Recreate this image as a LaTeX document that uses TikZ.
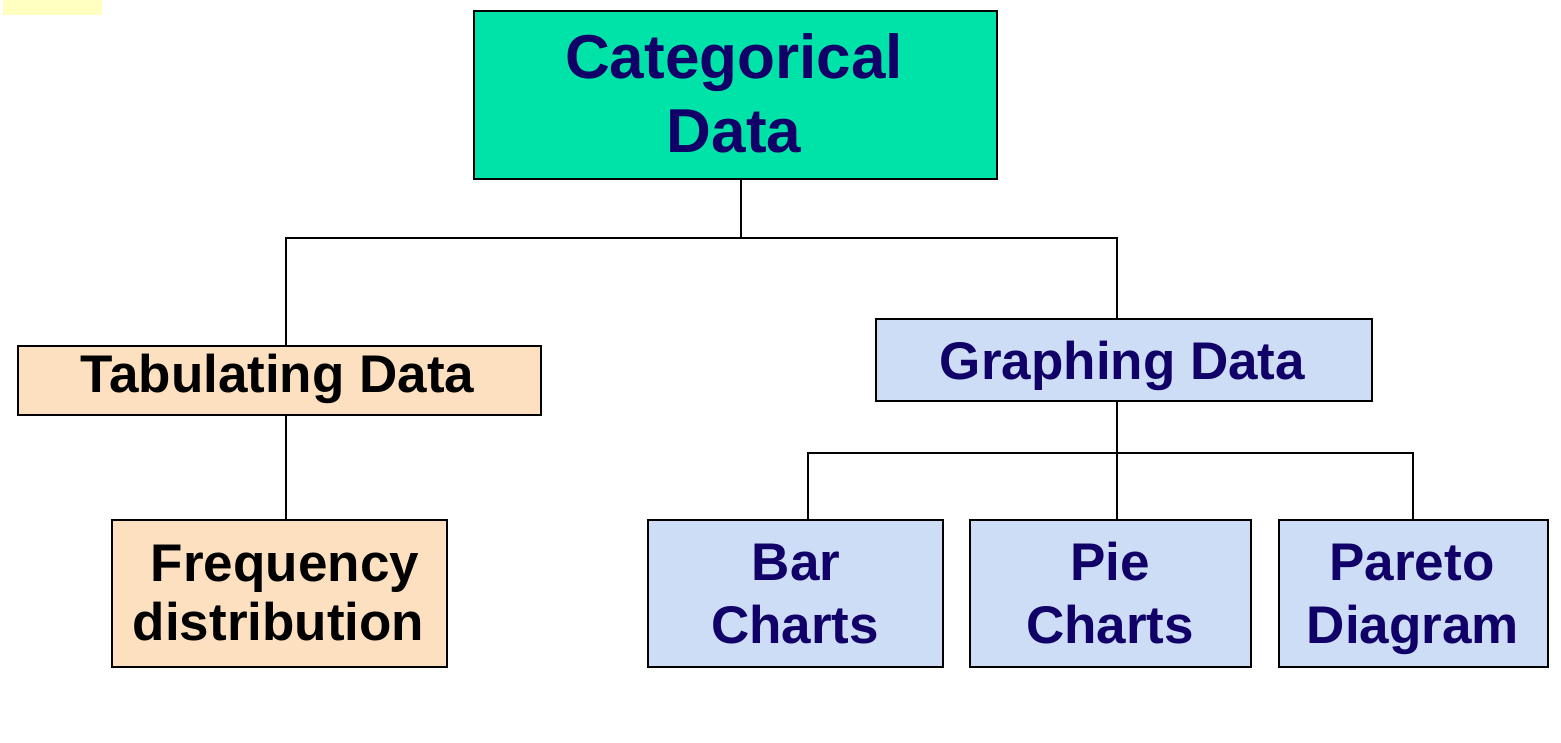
\documentclass[tikz,border=0pt]{standalone}
\usepackage{fontspec}
\setmainfont{Liberation Sans}
\definecolor{teal1}{HTML}{00E3A8}
\definecolor{peach}{HTML}{FCE0C0}
\definecolor{lblue}{HTML}{CCDDF5}
\definecolor{navy}{HTML}{100068}
\definecolor{lyellow}{HTML}{FFFFC0}
\tikzset{
  box/.style={draw=black, line width=2pt, inner sep=0pt, anchor=north west},
  conn/.style={draw=black, line width=2.8pt},
  big/.style={font=\fontsize{62}{74}\selectfont\bfseries, inner sep=0pt, anchor=base},
  mid/.style={font=\fontsize{53}{60}\selectfont\bfseries, inner sep=0pt, anchor=base},
}
\begin{document}
\begin{tikzpicture}[x=1pt,y=-1pt]
\useasboundingbox (0,0) rectangle (1561,743);
\fill[lyellow] (3,0) rectangle (102,15);
% boxes
\node[box, fill=teal1, minimum width=523pt, minimum height=168pt] (cat) at (473,10) {};
\node[box, fill=peach, minimum width=523pt, minimum height=69pt] (tab) at (17,345) {};
\node[box, fill=peach, minimum width=335pt, minimum height=147pt] (freq) at (111,519) {};
\node[box, fill=lblue, minimum width=496pt, minimum height=82pt] (gra) at (875,318) {};
\node[box, fill=lblue, minimum width=295pt, minimum height=147pt] (bar) at (647,519) {};
\node[box, fill=lblue, minimum width=281pt, minimum height=147pt] (pie) at (969,519) {};
\node[box, fill=lblue, minimum width=269pt, minimum height=147pt] (par) at (1278,519) {};
% texts
\node[big, text=navy] (catA) at (734,79) {Categorical};
\node[big, text=navy] (catB) at (734,153) {Data};
\node[mid, text=black] (tabT) at (277.5,392) {Tabulating Data};
\node[mid, text=black] (freqA) at (285,581) {Frequency};
\node[mid, text=black] (freqB) at (278.5,640) {distribution};
\node[mid, text=navy] (graT) at (1122.5,379) {Graphing Data};
\node[mid, text=navy] (barA) at (796,580) {Bar};
\node[mid, text=navy] (barB) at (795,643) {Charts};
\node[mid, text=navy] (pieA) at (1110,580) {Pie};
\node[mid, text=navy] (pieB) at (1110,643) {Charts};
\node[mid, text=navy] (parA) at (1412,580) {Pareto};
\node[mid, text=navy] (parB) at (1413,643) {Diagram};
% junctions
\coordinate (hC) at (741,238);
\coordinate (hL) at (286,238);
\coordinate (hR) at (1117,238);
\coordinate (gL) at (808,453);
\coordinate (gM) at (1117,453);
\coordinate (gR) at (1413,453);
% connectors
\draw[conn] (cat.south -| hC) -- (hC);
\draw[conn] (tab.north -| hL) -- (hL) -- (hR) -- (gra.north -| hR);
\draw[conn] (tab.south -| hL) -- (freq.north -| hL);
\draw[conn] (gra.south -| gM) -- (gM);
\draw[conn] (bar.north -| gL) -- (gL) -- (gR) -- (par.north -| gR);
\draw[conn] (gM) -- (pie.north -| gM);
\end{tikzpicture}
\end{document}
